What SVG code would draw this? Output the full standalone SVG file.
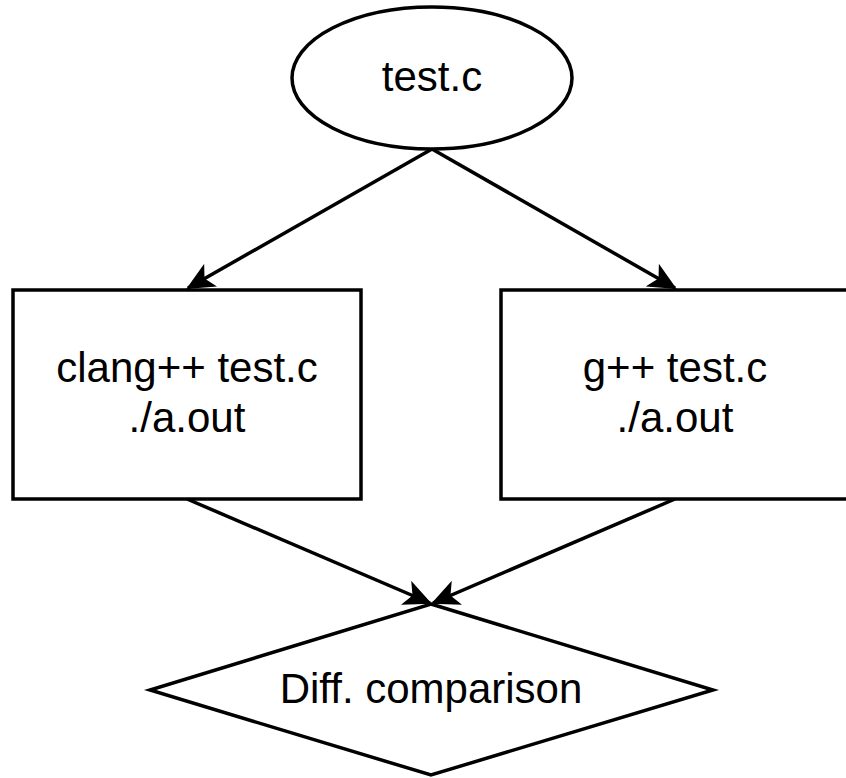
<svg xmlns="http://www.w3.org/2000/svg" width="846" height="778" viewBox="0 0 846 778">
<style>
.shape{fill:#fff;stroke:#000;stroke-width:3.5}
.edge{fill:none;stroke:#000;stroke-width:3.5}
text{font-family:"Liberation Sans",Arial,sans-serif;font-size:42px;fill:#000;text-anchor:middle}
</style>
<defs>
<marker id="arr" viewBox="0 0 28 26" refX="26" refY="13" markerWidth="28" markerHeight="26" markerUnits="userSpaceOnUse" orient="auto">
<path d="M0,0 L28,13 L0,26 L7,13 Z" fill="#000"/>
</marker>
</defs>
<rect width="846" height="778" fill="#fff"/>
<g id="connectors">
<line class="edge" x1="432" y1="149" x2="188" y2="288" marker-end="url(#arr)"/>
<line class="edge" x1="432" y1="149" x2="675" y2="288" marker-end="url(#arr)"/>
<line class="edge" x1="187" y1="499" x2="430" y2="603" marker-end="url(#arr)"/>
<line class="edge" x1="675" y1="499" x2="433" y2="603" marker-end="url(#arr)"/>
</g>
<g id="test-c">
<ellipse class="shape" cx="432" cy="78" rx="140" ry="71"/>
<text x="432" y="91">test.c</text>
</g>
<g id="clang">
<rect class="shape" x="13" y="290" width="348" height="209"/>
<text x="187" y="382">clang++ test.c</text>
<text x="187" y="432">./a.out</text>
</g>
<g id="gcc">
<rect class="shape" x="501" y="290" width="348" height="209"/>
<text x="675" y="382">g++ test.c</text>
<text x="675" y="432">./a.out</text>
</g>
<g id="diff">
<polygon class="shape" points="431,604 713,690 431,775 150,690"/>
<text x="431" y="703">Diff. comparison</text>
</g>
</svg>
